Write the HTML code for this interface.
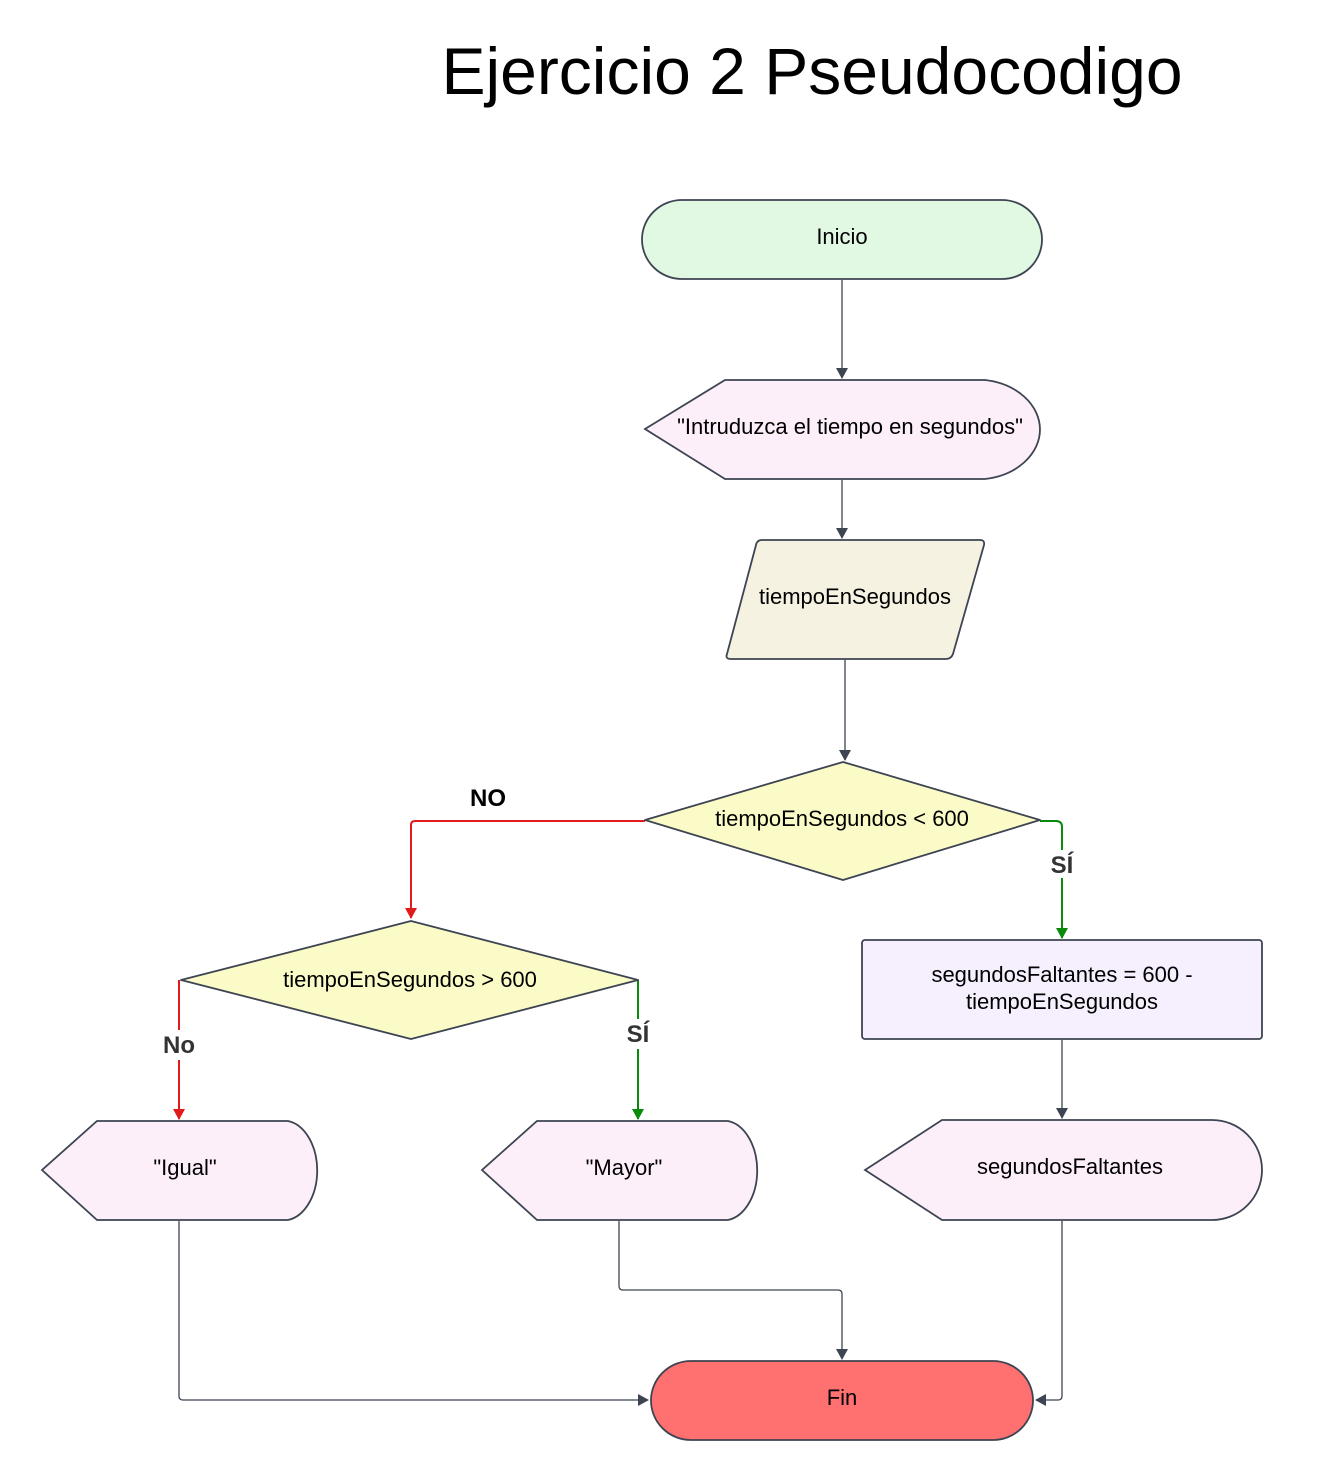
<!DOCTYPE html>
<html><head><meta charset="utf-8"><style>
html,body{margin:0;padding:0;background:#fff;}
svg{display:block;}
text{font-family:"Liberation Sans",Arial,sans-serif;}
</style></head><body>
<svg width="1322" height="1481" viewBox="0 0 1322 1481" xmlns="http://www.w3.org/2000/svg">
<defs>
<marker id="ag" markerWidth="12" markerHeight="14" refX="10" refY="7" orient="auto" markerUnits="userSpaceOnUse"><path d="M0,1 L11,7 L0,13 Z" fill="#3d4452"/></marker>
<marker id="ar" markerWidth="12" markerHeight="14" refX="10" refY="7" orient="auto" markerUnits="userSpaceOnUse"><path d="M0,1 L11,7 L0,13 Z" fill="#e01b1b"/></marker>
<marker id="agr" markerWidth="12" markerHeight="14" refX="10" refY="7" orient="auto" markerUnits="userSpaceOnUse"><path d="M0,1 L11,7 L0,13 Z" fill="#0a8a0a"/></marker>
</defs>
<text x="812" y="94" font-size="66" text-anchor="middle" fill="#000">Ejercicio 2 Pseudocodigo</text>

<g stroke="#3d4452" stroke-width="1.3" fill="none">
<line x1="842" y1="280" x2="842" y2="378" marker-end="url(#ag)"/>
<line x1="842" y1="480" x2="842" y2="538" marker-end="url(#ag)"/>
<line x1="845" y1="660" x2="845" y2="760" marker-end="url(#ag)"/>
<line x1="1062" y1="1040" x2="1062" y2="1118" marker-end="url(#ag)"/>
<path d="M179,1221 V1396 Q179,1400 183,1400 H648" marker-end="url(#ag)"/>
<path d="M619,1221 V1286 Q619,1290 623,1290 H838 Q842,1290 842,1294 V1359" marker-end="url(#ag)"/>
<path d="M1062,1221 V1396 Q1062,1400 1058,1400 H1036" marker-end="url(#ag)"/>
</g>
<g stroke-width="2" fill="none">
<path d="M645,821 H415 Q411,821 411,825 V918" stroke="#e01b1b" marker-end="url(#ar)"/>
<path d="M1040,821 H1056 Q1062,821 1062,827 V938" stroke="#0a8a0a" marker-end="url(#agr)"/>
<path d="M179,980 V1119" stroke="#e01b1b" marker-end="url(#ar)"/>
<path d="M638,980 V1119" stroke="#0a8a0a" marker-end="url(#agr)"/>
</g>

<g stroke="#3d4452" stroke-width="1.8">
<rect x="642" y="200" width="400" height="79" rx="40" fill="#e1f9e2"/>
<path d="M725,380 H985 A64,50 0 0 1 985,479 H725 L645,429 Z" fill="#fdeffa"/>
<path d="M762,540 H980 Q985,540 984,545 L953,654 Q951,659 946,659 H731 Q725,659 727,654 L756,545 Q757,540 762,540 Z" fill="#f5f2e2"/>
<path d="M645,820 L843,762 L1040,820 L843,880 Z" fill="#fbfbc8" stroke-linejoin="round"/>
<rect x="862" y="940" width="400" height="99" rx="3" fill="#f6effd"/>
<path d="M942,1120 H1212 A50,50 0 0 1 1212,1220 H942 L865,1170 Z" fill="#fdeffa"/>
<path d="M181,980 L411,921 L638,980 L411,1039 Z" fill="#fbfbc8" stroke-linejoin="round"/>
<path d="M97,1121 H288 A34,50 0 0 1 288,1220 H97 L42,1170 Z" fill="#fdeffa"/>
<path d="M537,1121 H728 A34,50 0 0 1 728,1220 H537 L482,1170 Z" fill="#fdeffa"/>
<rect x="651" y="1361" width="382" height="79" rx="40" fill="#ff7070"/>
</g>

<g font-size="22" fill="#000" text-anchor="middle">
<text x="842" y="244">Inicio</text>
<text x="850" y="434">"Intruduzca el tiempo en segundos"</text>
<text x="855" y="604">tiempoEnSegundos</text>
<text x="842" y="826">tiempoEnSegundos &lt; 600</text>
<text x="1062" y="982">segundosFaltantes = 600 -</text>
<text x="1062" y="1009">tiempoEnSegundos</text>
<text x="1070" y="1174">segundosFaltantes</text>
<text x="410" y="987">tiempoEnSegundos &gt; 600</text>
<text x="185" y="1175">"Igual"</text>
<text x="624" y="1175">"Mayor"</text>
<text x="842" y="1405">Fin</text>
</g>
<g font-size="24" font-weight="bold" text-anchor="middle">
<text x="488" y="806" fill="#000">NO</text>
<rect x="1046" y="850" width="32" height="28" fill="#fff"/>
<text x="1062" y="873" fill="#333">SÍ</text>
<rect x="158" y="1030" width="42" height="30" fill="#fff"/>
<text x="179" y="1053" fill="#333">No</text>
<rect x="622" y="1019" width="32" height="30" fill="#fff"/>
<text x="638" y="1042" fill="#333">SÍ</text>
</g>
</svg>
</body></html>
